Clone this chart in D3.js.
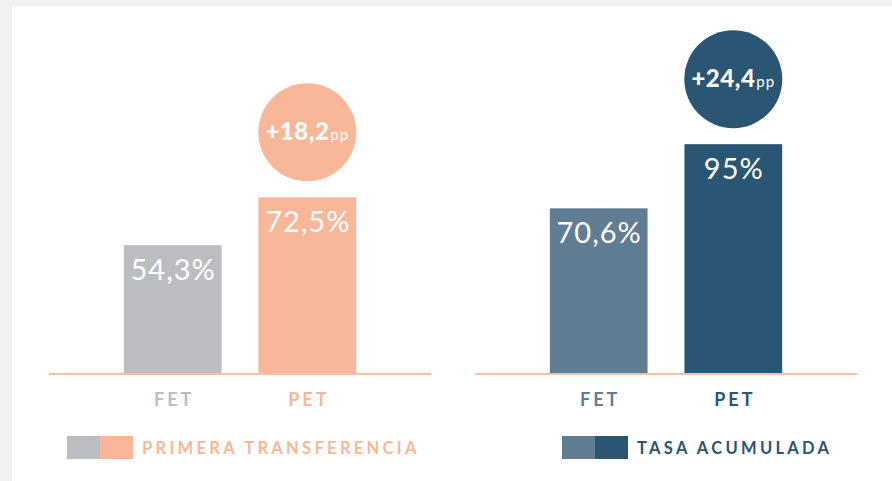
<!DOCTYPE html>
<meta charset="utf-8">
<style>
    body { margin: 0; background: #f1f2f4; }
    svg { display: block; }
    text { font-family: Lato, "Open Sans", sans-serif; }
</style>
<svg class="chart"></svg>
<script src="https://cdn.jsdelivr.net/npm/d3@7"></script>
<script>

    // data
    var categories = ["FET", "PET"];
    var primeraValues = [54.3, 72.5];
    var acumuladaValues = [70.6, 95];
    var primeraLabels = ["54,3%", "72,5%"];
    var acumuladaLabels = ["70,6%", "95%"];
    var diffLabels = ["+18,2", "+24,4"];
    var seriesNames = ["PRIMERA TRANSFERENCIA", "TASA ACUMULADA"];

    var width = 892,
        height = 481;

    var svg = d3.select(".chart")
        .attr("width", width)
        .attr("height", height);

    // white card
    svg.append("rect")
        .attr("x", 12).attr("y", 6)
        .attr("width", width - 12).attr("height", height - 6)
        .attr("fill", "#fff");

    var baseline = 373;

    var panels = [
        { x0: 49, zero: 388, values: primeraValues, labels: primeraLabels, diff: diffLabels[0],
          name: seriesNames[0], colors: ["#bcbdc1", "#f8b799"], legendX: 67 },
        { x0: 475, zero: 394, values: acumuladaValues, labels: acumuladaLabels, diff: diffLabels[1],
          name: seriesNames[1], colors: ["#607d94", "#2a5573"], legendX: 562 }
    ];

    panels.forEach(function(p) {
        var x = d3.scaleBand()
            .domain(categories)
            .range([p.x0, p.x0 + 382])
            .paddingInner(0.274)
            .paddingOuter(0.556);

        var y = d3.scaleLinear()
            .domain([0, 100])
            .range([p.zero, p.zero - 263]);

        var g = svg.append("g");

        var bar = g.selectAll("g.bar")
            .data(categories)
            .enter().append("g")
            .attr("class", "bar");

        bar.append("rect")
            .attr("x", function(d) { return x(d); })
            .attr("y", function(d, i) { return y(p.values[i]); })
            .attr("width", x.bandwidth())
            .attr("height", function(d, i) { return baseline - y(p.values[i]); })
            .attr("fill", function(d, i) { return p.colors[i]; });

        bar.append("text")
            .attr("x", function(d) { return x(d) + x.bandwidth() / 2 + 0.5; })
            .attr("y", function(d, i) { return y(p.values[i]) + 35; })
            .attr("text-anchor", "middle")
            .attr("fill", "#fff")
            .style("font-size", "29px")
            .style("font-weight", 400)
            .style("letter-spacing", "1px")
            .text(function(d, i) { return p.labels[i]; });

        // category labels
        bar.append("text")
            .attr("x", function(d) { return x(d) + x.bandwidth() / 2 + 1.5; })
            .attr("y", 406)
            .attr("text-anchor", "middle")
            .attr("fill", function(d, i) { return p.colors[i]; })
            .style("font-size", "18px")
            .style("font-weight", 700)
            .style("letter-spacing", "3px")
            .text(function(d) { return d; });

        // axis line
        g.append("line")
            .attr("x1", p.x0).attr("x2", p.x0 + 382)
            .attr("y1", baseline + 1).attr("y2", baseline + 1)
            .attr("stroke", "#f9c0a6")
            .attr("stroke-width", 2);

        // difference bubble over PET
        var cx = x("PET") + x.bandwidth() / 2,
            cy = y(p.values[1]) - 65;
        g.append("circle")
            .attr("cx", cx).attr("cy", cy).attr("r", 49)
            .attr("fill", p.colors[1]);

        var t = g.append("text")
            .attr("x", cx).attr("y", cy + 8)
            .attr("text-anchor", "middle")
            .attr("fill", "#fff");
        t.append("tspan")
            .style("font-size", "24px")
            .style("font-weight", 900)
            .style("letter-spacing", "0.5px")
            .text(p.diff);
        t.append("tspan")
            .style("font-size", "15px")
            .style("letter-spacing", "1px")
            .attr("dx", 1)
            .text("pp");

        // legend
        p.colors.forEach(function(c, i) {
            g.append("rect")
                .attr("x", p.legendX + i * 33).attr("y", 436)
                .attr("width", 33).attr("height", 23)
                .attr("fill", c);
        });
        g.append("text")
            .attr("x", p.legendX + 75)
            .attr("y", 454)
            .attr("fill", p.colors[1])
            .style("font-size", "16.5px")
            .style("font-weight", 700)
            .style("letter-spacing", "3.3px")
            .text(p.name);
    });

</script>
